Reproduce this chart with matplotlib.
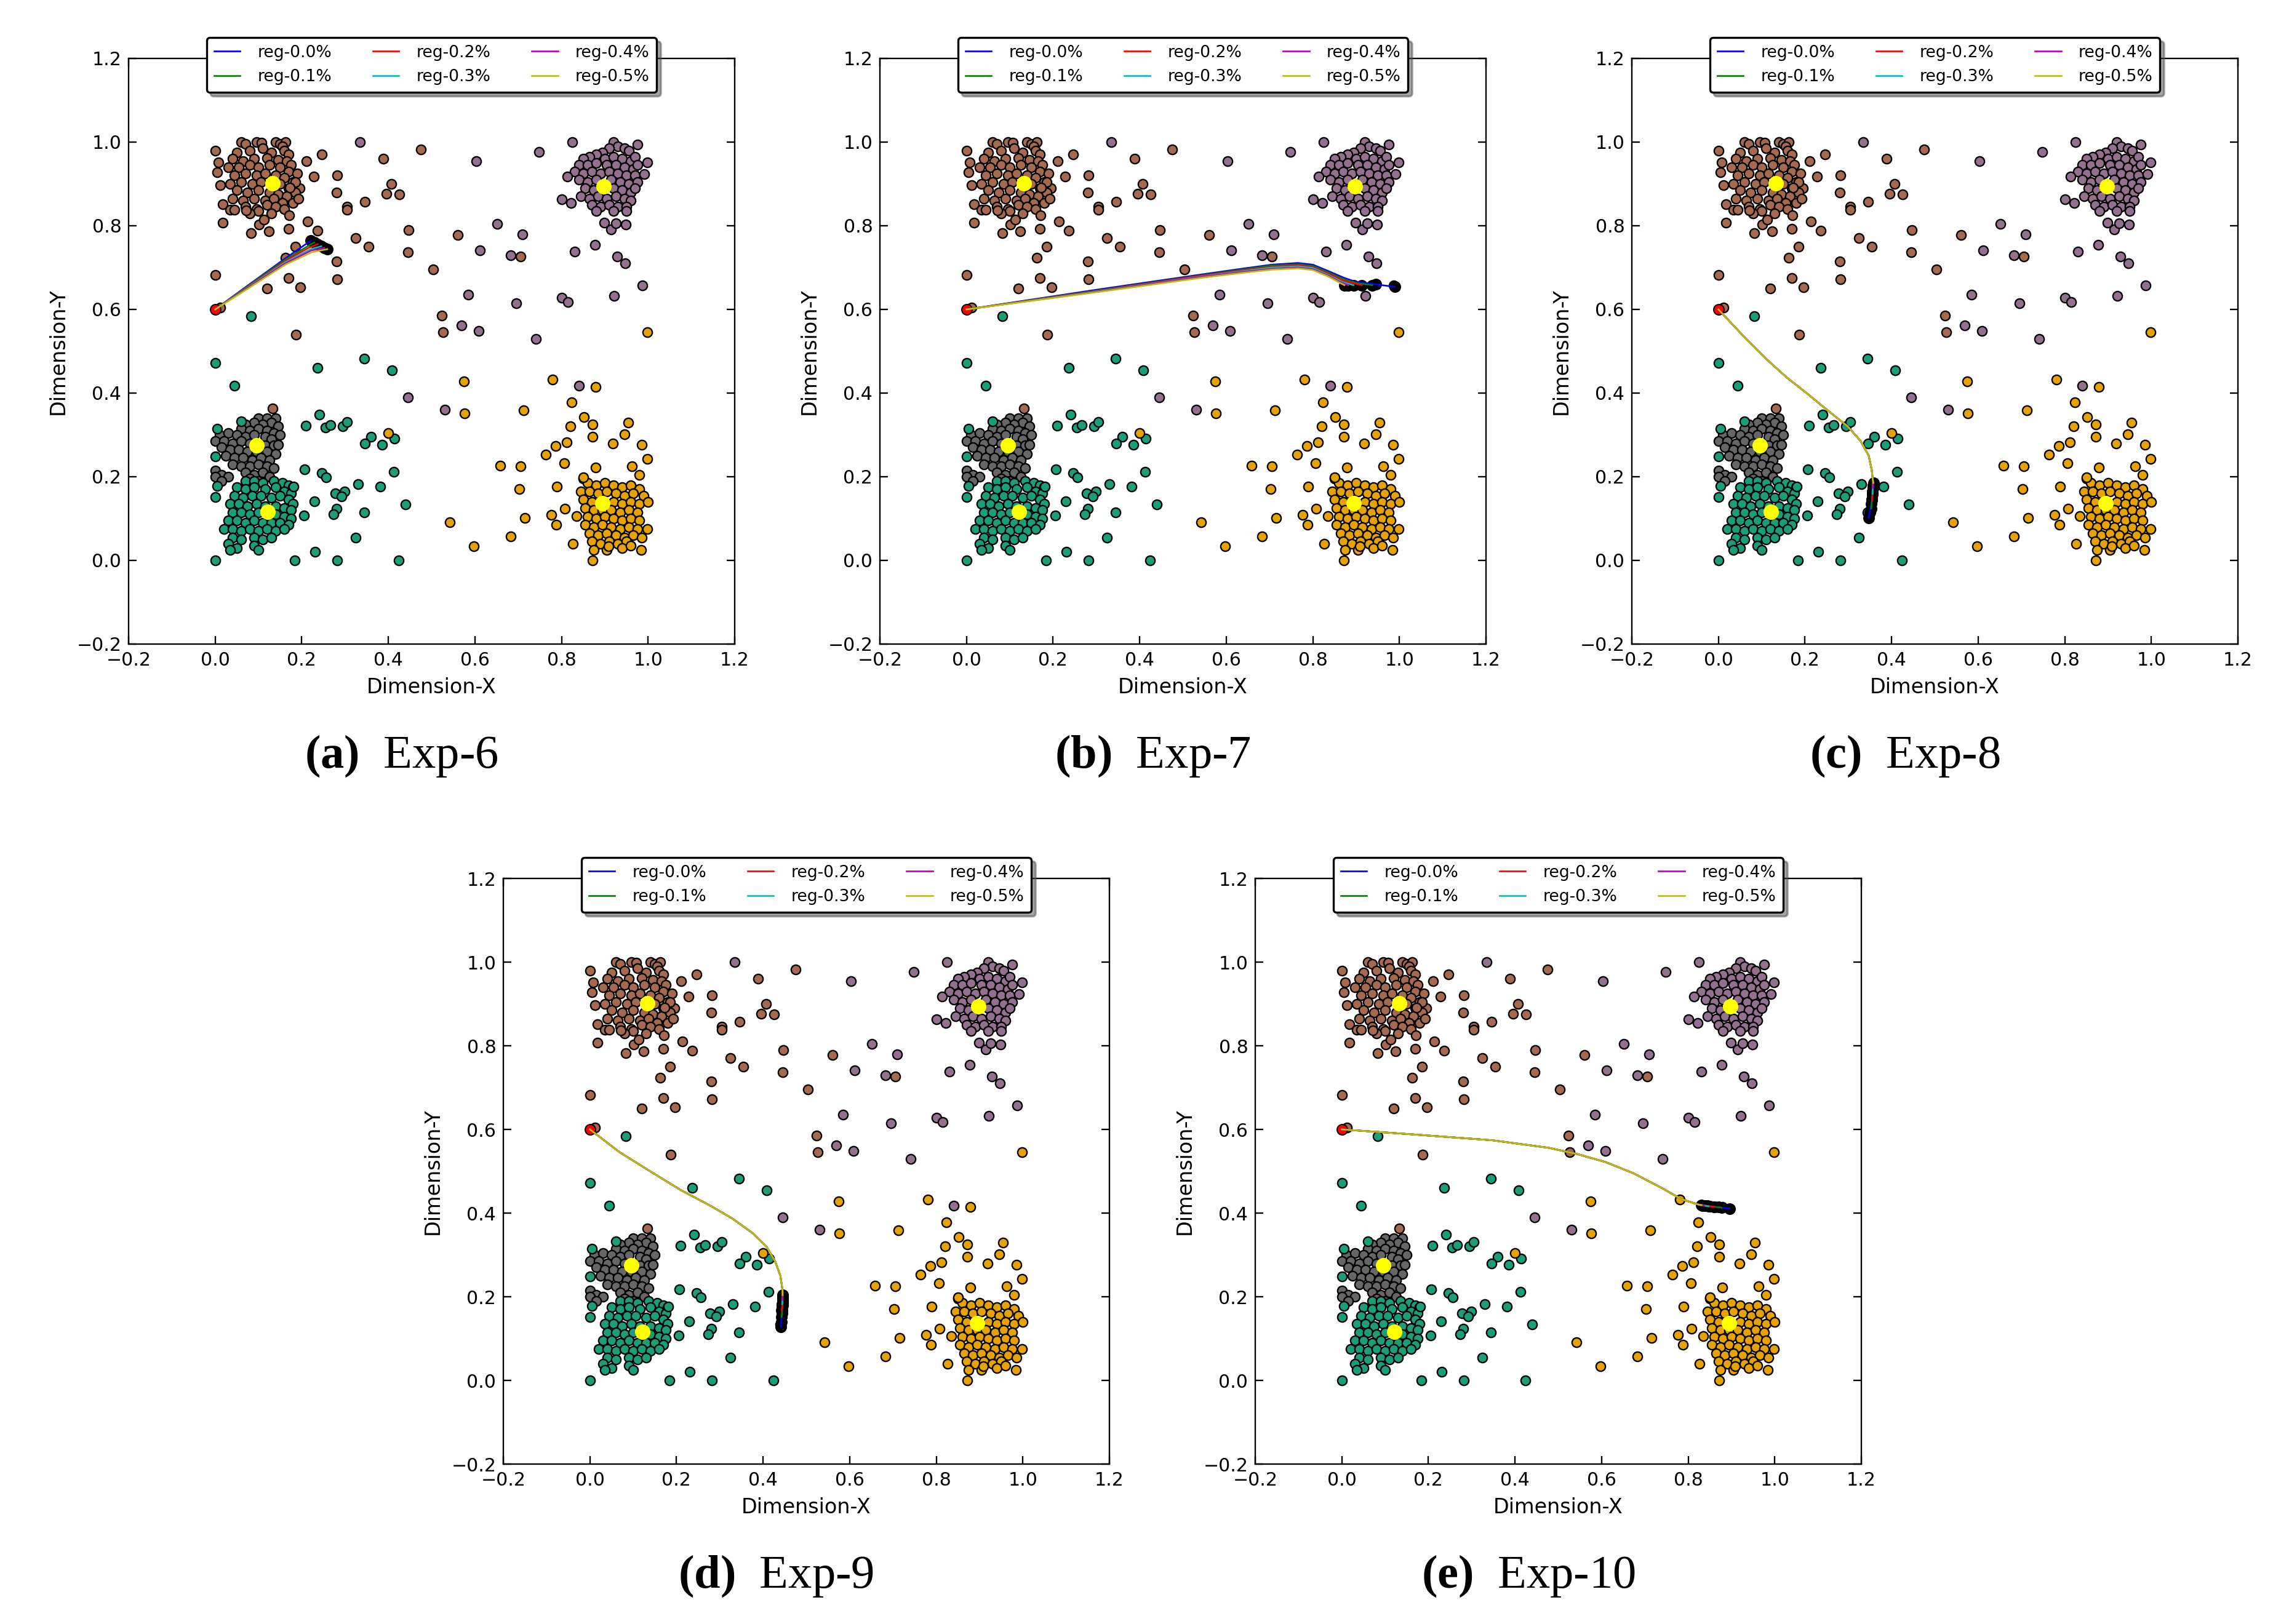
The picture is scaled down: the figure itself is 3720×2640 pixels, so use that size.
import matplotlib
matplotlib.use("Agg")
import matplotlib.pyplot as plt

plt.rcParams["font.family"] = ["DejaVu Sans"]
plt.rcParams["mathtext.fontset"] = "custom"
plt.rcParams["mathtext.rm"] = "Liberation Serif"
plt.rcParams["mathtext.bf"] = "Liberation Serif:bold"

# ---- data points (same data set in every panel) ----
brown_pts = [
    (0.06, 1.0), (0.07, 0.995), (0.095, 1.0), (0.107, 0.998), (0.14, 1.0), (0.15, 0.995), (0.162, 1.0), (0.155, 0.99),
    (0.05, 0.975), (0.08, 0.98), (0.11, 0.985), (0.13, 0.975), (0.16, 0.98), (0.17, 0.97),
    (0.04, 0.96), (0.065, 0.955), (0.09, 0.96), (0.12, 0.962), (0.145, 0.958), (0.165, 0.955), (0.175, 0.945),
    (0.03, 0.94), (0.055, 0.94), (0.08, 0.945), (0.1, 0.94), (0.125, 0.945), (0.15, 0.94), (0.17, 0.93), (0.19, 0.925),
    (0.045, 0.92), (0.07, 0.925), (0.095, 0.92), (0.115, 0.925), (0.14, 0.92), (0.16, 0.915), (0.18, 0.905),
    (0.035, 0.9), (0.06, 0.905), (0.085, 0.9), (0.105, 0.905), (0.15, 0.9), (0.17, 0.89), (0.195, 0.89),
    (0.05, 0.885), (0.075, 0.88), (0.1, 0.885), (0.125, 0.88), (0.145, 0.875), (0.165, 0.87), (0.185, 0.88),
    (0.04, 0.865), (0.065, 0.86), (0.09, 0.865), (0.115, 0.86), (0.135, 0.865), (0.155, 0.855), (0.18, 0.855),
    (0.07, 0.845), (0.095, 0.84), (0.12, 0.85), (0.14, 0.845), (0.16, 0.84), (0.1, 0.835), (0.13, 0.83), (0.08, 0.83),
    (0.0, 0.98), (0.008, 0.952), (0.005, 0.928), (0.012, 0.897), (0.017, 0.852), (0.034, 0.838), (0.045, 0.838),
    (0.072, 0.837), (0.017, 0.808), (0.083, 0.782), (0.102, 0.803), (0.112, 0.815), (0.124, 0.787), (0.171, 0.825),
    (0.169, 0.792), (0.192, 0.865), (0.185, 0.904), (0.173, 0.891), (0.211, 0.955), (0.228, 0.917), (0.246, 0.97),
    (0.282, 0.921), (0.28, 0.879), (0.304, 0.845), (0.304, 0.838), (0.346, 0.858), (0.388, 0.96), (0.407, 0.9),
    (0.395, 0.876), (0.426, 0.875), (0.475, 0.983), (0.213, 0.81), (0.236, 0.788), (0.185, 0.75), (0.162, 0.723),
    (0.28, 0.714), (0.325, 0.77), (0.355, 0.75), (0.447, 0.789), (0.445, 0.737), (0.504, 0.695), (0.0, 0.682),
    (0.169, 0.675), (0.12, 0.65), (0.196, 0.653), (0.282, 0.672), (0.012, 0.605), (0.186, 0.539), (0.524, 0.586),
    (0.527, 0.546), (0.561, 0.778), (0.705, 0.726), (0.132, 0.363),
]
purple_pts = [
    (0.92, 1.0), (0.93, 0.99), (0.945, 0.985), (0.955, 0.98), (0.91, 0.985), (0.895, 0.975), (0.88, 0.97),
    (0.865, 0.965), (0.85, 0.96), (0.9, 0.96), (0.92, 0.965), (0.94, 0.96), (0.96, 0.955), (0.97, 0.965),
    (0.84, 0.945), (0.86, 0.945), (0.88, 0.95), (0.905, 0.945), (0.925, 0.945), (0.945, 0.94), (0.965, 0.935), (0.975, 0.945),
    (0.83, 0.93), (0.85, 0.925), (0.87, 0.93), (0.89, 0.925), (0.91, 0.93), (0.93, 0.925), (0.95, 0.92), (0.97, 0.92),
    (0.84, 0.91), (0.86, 0.905), (0.88, 0.91), (0.915, 0.91), (0.935, 0.905), (0.955, 0.9), (0.975, 0.905),
    (0.855, 0.89), (0.875, 0.885), (0.92, 0.89), (0.94, 0.885), (0.96, 0.88), (0.97, 0.89),
    (0.845, 0.87), (0.865, 0.865), (0.885, 0.87), (0.905, 0.865), (0.925, 0.87), (0.945, 0.865), (0.96, 0.86),
    (0.87, 0.85), (0.89, 0.845), (0.91, 0.85), (0.93, 0.845), (0.95, 0.845), (0.88, 0.835), (0.92, 0.835), (0.95, 0.835),
    (0.335, 1.0), (0.825, 1.0), (0.748, 0.977), (0.603, 0.955), (0.976, 0.994), (0.998, 0.952), (0.991, 0.923),
    (0.8, 0.863), (0.822, 0.855), (0.814, 0.917), (0.652, 0.805), (0.709, 0.78), (0.612, 0.741), (0.683, 0.73),
    (0.83, 0.738), (0.877, 0.754), (0.929, 0.727), (0.947, 0.711), (0.898, 0.808), (0.915, 0.791), (0.926, 0.806),
    (0.948, 0.803), (0.987, 0.657), (0.922, 0.632), (0.8, 0.628), (0.815, 0.617), (0.695, 0.614), (0.585, 0.636),
    (0.569, 0.562), (0.609, 0.549), (0.741, 0.53), (0.445, 0.39), (0.53, 0.36), (0.84, 0.418),
]
gray_pts = [
    (0.1, 0.34), (0.12, 0.34), (0.14, 0.34), (0.13, 0.33), (0.11, 0.325), (0.145, 0.32), (0.09, 0.33), (0.07, 0.325),
    (0.06, 0.315), (0.08, 0.31), (0.1, 0.315), (0.12, 0.31), (0.135, 0.305), (0.15, 0.3),
    (0.01, 0.3), (0.03, 0.305), (0.05, 0.3), (0.07, 0.295), (0.09, 0.3), (0.115, 0.295), (0.13, 0.29),
    (0.0, 0.285), (0.02, 0.285), (0.04, 0.28), (0.06, 0.285), (0.08, 0.28), (0.115, 0.275), (0.135, 0.275),
    (0.015, 0.27), (0.035, 0.265), (0.055, 0.265), (0.075, 0.26), (0.095, 0.26), (0.12, 0.26), (0.14, 0.255),
    (0.025, 0.25), (0.045, 0.245), (0.065, 0.245), (0.085, 0.24), (0.105, 0.245), (0.125, 0.24),
    (0.04, 0.23), (0.06, 0.225), (0.08, 0.225), (0.1, 0.23), (0.12, 0.225), (0.135, 0.22),
    (0.0, 0.215), (0.015, 0.205), (0.03, 0.2), (0.07, 0.21), (0.09, 0.205), (0.11, 0.21), (0.125, 0.2),
    (0.1, 0.19), (0.08, 0.195), (0.0, 0.2), (0.015, 0.19), (0.145, 0.276),
]
green_pts = [
    (0.07, 0.19), (0.09, 0.19), (0.11, 0.185), (0.135, 0.19), (0.155, 0.185), (0.17, 0.18), (0.18, 0.175),
    (0.05, 0.175), (0.07, 0.17), (0.09, 0.175), (0.115, 0.17), (0.14, 0.175), (0.16, 0.165), (0.175, 0.16),
    (0.045, 0.155), (0.065, 0.15), (0.085, 0.155), (0.105, 0.155), (0.13, 0.15), (0.15, 0.155), (0.17, 0.145), (0.18, 0.135),
    (0.035, 0.135), (0.055, 0.135), (0.075, 0.13), (0.095, 0.135), (0.115, 0.13), (0.14, 0.13), (0.16, 0.125), (0.175, 0.12),
    (0.04, 0.115), (0.06, 0.115), (0.08, 0.11), (0.1, 0.115), (0.14, 0.11), (0.16, 0.105), (0.175, 0.1),
    (0.03, 0.095), (0.05, 0.095), (0.07, 0.09), (0.09, 0.095), (0.11, 0.09), (0.13, 0.09), (0.15, 0.09), (0.17, 0.085),
    (0.02, 0.075), (0.04, 0.075), (0.06, 0.07), (0.08, 0.075), (0.1, 0.07), (0.12, 0.075), (0.14, 0.07), (0.16, 0.075),
    (0.04, 0.055), (0.06, 0.05), (0.09, 0.055), (0.11, 0.05), (0.13, 0.055), (0.03, 0.04), (0.05, 0.03),
    (0.09, 0.035), (0.1, 0.025), (0.035, 0.025),
    (0.083, 0.584), (0.0, 0.472), (0.236, 0.46), (0.344, 0.482), (0.409, 0.455), (0.045, 0.417), (0.241, 0.348),
    (0.21, 0.322), (0.255, 0.318), (0.266, 0.323), (0.294, 0.32), (0.304, 0.331), (0.36, 0.295), (0.346, 0.28),
    (0.386, 0.276), (0.414, 0.291), (0.06, 0.332), (0.005, 0.315), (0.0, 0.248), (0.207, 0.218), (0.247, 0.209),
    (0.256, 0.198), (0.33, 0.183), (0.381, 0.176), (0.412, 0.212), (0.278, 0.16), (0.299, 0.165), (0.292, 0.153),
    (0.229, 0.141), (0.281, 0.124), (0.273, 0.111), (0.344, 0.115), (0.439, 0.134), (0.205, 0.107), (0.181, 0.176),
    (0.324, 0.054), (0.23, 0.02), (0.184, 0.0), (0.282, 0.0), (0.424, 0.0), (0.0, 0.0), (0.0, 0.152), (0.005, 0.178),
]
orange_pts = [
    (0.85, 0.195), (0.86, 0.185), (0.88, 0.18), (0.9, 0.185), (0.92, 0.18), (0.94, 0.175), (0.96, 0.18), (0.98, 0.17),
    (0.845, 0.165), (0.865, 0.165), (0.885, 0.16), (0.905, 0.165), (0.925, 0.16), (0.945, 0.155), (0.965, 0.16), (0.99, 0.155),
    (0.85, 0.145), (0.87, 0.14), (0.92, 0.14), (0.94, 0.135), (0.96, 0.14), (0.98, 0.135), (1.0, 0.14),
    (0.855, 0.125), (0.875, 0.12), (0.895, 0.12), (0.915, 0.12), (0.935, 0.115), (0.955, 0.12), (0.975, 0.115),
    (0.86, 0.105), (0.88, 0.1), (0.9, 0.105), (0.92, 0.1), (0.94, 0.095), (0.96, 0.1), (0.98, 0.095),
    (0.855, 0.085), (0.875, 0.08), (0.895, 0.085), (0.915, 0.08), (0.935, 0.075), (0.955, 0.08), (0.975, 0.075),
    (0.865, 0.065), (0.885, 0.06), (0.905, 0.065), (0.925, 0.06), (0.945, 0.055), (0.965, 0.06), (0.985, 0.055),
    (0.87, 0.045), (0.89, 0.04), (0.91, 0.045), (0.93, 0.04), (0.95, 0.045), (0.875, 0.025), (0.905, 0.025),
    (0.94, 0.03), (0.96, 0.035),
    (0.4, 0.304), (0.998, 0.546), (0.575, 0.428), (0.576, 0.351), (0.713, 0.359), (0.78, 0.432), (0.879, 0.415),
    (0.824, 0.378), (0.852, 0.342), (0.872, 0.325), (0.82, 0.321), (0.872, 0.295), (0.954, 0.33), (0.946, 0.302),
    (0.919, 0.28), (0.986, 0.276), (0.998, 0.243), (0.812, 0.282), (0.787, 0.274), (0.763, 0.253), (0.807, 0.233),
    (0.879, 0.222), (0.962, 0.225), (0.98, 0.205), (0.658, 0.227), (0.706, 0.225), (0.703, 0.17), (0.789, 0.177),
    (0.716, 0.101), (0.777, 0.109), (0.788, 0.085), (0.808, 0.124), (0.835, 0.106), (0.542, 0.091), (0.682, 0.058),
    (0.598, 0.034), (0.826, 0.039), (0.872, 0.0), (0.908, 0.034), (0.984, 0.025), (0.998, 0.075), (0.851, 0.198),
]
cluster_colors = ["#a5694f", "#94708f", "#666666", "#1b9e77", "#e6a102"]
centroids = [(0.133, 0.901), (0.897, 0.894), (0.096, 0.275), (0.121, 0.116), (0.895, 0.137)]
start_point = (0.0, 0.6)

reg_labels = ["reg-0.0%", "reg-0.1%", "reg-0.2%", "reg-0.3%", "reg-0.4%", "reg-0.5%"]
reg_colors = ["b", "g", "r", "c", "m", "y"]

# ---- trajectories, one list per regularisation level ----
exp6_paths = [
    [(0, 0.6), (0.067, 0.651), (0.162, 0.722), (0.212, 0.758), (0.221, 0.764)],
    [(0, 0.6), (0.067, 0.65), (0.162, 0.719), (0.215, 0.752), (0.229, 0.76)],
    [(0, 0.6), (0.067, 0.648), (0.162, 0.716), (0.217, 0.748), (0.237, 0.756)],
    [(0, 0.6), (0.067, 0.647), (0.162, 0.713), (0.22, 0.744), (0.245, 0.751)],
    [(0, 0.6), (0.067, 0.646), (0.162, 0.71), (0.222, 0.741), (0.252, 0.747)],
    [(0, 0.6), (0.067, 0.644), (0.162, 0.707), (0.224, 0.737), (0.259, 0.744)],
]
exp7_paths = [
    [(0, 0.6), (0.3, 0.647), (0.539, 0.683), (0.634, 0.697), (0.705, 0.707), (0.766, 0.711), (0.8, 0.707),
     (0.833, 0.693), (0.871, 0.676), (0.899, 0.666), (0.945, 0.66), (0.989, 0.654)],
    [(0, 0.6), (0.3, 0.645), (0.539, 0.681), (0.634, 0.695), (0.705, 0.705), (0.766, 0.708), (0.8, 0.704),
     (0.833, 0.69), (0.871, 0.672), (0.905, 0.662), (0.937, 0.658)],
    [(0, 0.6), (0.3, 0.644), (0.539, 0.68), (0.634, 0.693), (0.705, 0.702), (0.766, 0.706), (0.8, 0.701),
     (0.833, 0.687), (0.87, 0.669), (0.913, 0.658)],
    [(0, 0.6), (0.3, 0.643), (0.539, 0.678), (0.634, 0.691), (0.705, 0.7), (0.766, 0.703), (0.8, 0.699),
     (0.833, 0.684), (0.865, 0.667), (0.894, 0.658)],
    [(0, 0.6), (0.3, 0.642), (0.539, 0.677), (0.634, 0.689), (0.705, 0.697), (0.766, 0.7), (0.8, 0.696),
     (0.833, 0.682), (0.862, 0.666), (0.882, 0.658)],
    [(0, 0.6), (0.3, 0.641), (0.539, 0.675), (0.634, 0.687), (0.705, 0.695), (0.766, 0.698), (0.8, 0.694),
     (0.833, 0.68), (0.86, 0.665), (0.873, 0.658)],
]
exp8_shared = [(0, 0.6), (0.0625, 0.531), (0.11, 0.482), (0.157, 0.438), (0.205, 0.399), (0.252, 0.359),
               (0.299, 0.32), (0.328, 0.286), (0.347, 0.251), (0.354, 0.217), (0.357, 0.19)]
exp8_tails = [
    [(0.356, 0.16), (0.353, 0.135), (0.35, 0.115), (0.347, 0.102)],
    [(0.356, 0.165), (0.355, 0.145), (0.353, 0.124)],
    [(0.357, 0.172), (0.356, 0.158), (0.355, 0.144)],
    [(0.357, 0.175), (0.356, 0.165), (0.356, 0.159)],
    [(0.357, 0.18), (0.357, 0.173)],
    [(0.358, 0.185)],
]
exp9_shared = [(0, 0.6), (0.068, 0.546), (0.139, 0.5), (0.21, 0.455), (0.281, 0.416), (0.329, 0.387),
               (0.376, 0.352), (0.409, 0.318), (0.428, 0.284), (0.44, 0.25), (0.445, 0.215)]
exp9_tails = [
    [(0.445, 0.18), (0.444, 0.16), (0.442, 0.14), (0.441, 0.128)],
    [(0.445, 0.185), (0.444, 0.168), (0.443, 0.152)],
    [(0.445, 0.19), (0.444, 0.178), (0.443, 0.168)],
    [(0.445, 0.195), (0.444, 0.182)],
    [(0.445, 0.2), (0.445, 0.192)],
    [(0.445, 0.204)],
]
exp10_shared = [(0, 0.6), (0.152, 0.589), (0.348, 0.574), (0.478, 0.556), (0.544, 0.541), (0.609, 0.522),
                (0.674, 0.495), (0.739, 0.46), (0.785, 0.433), (0.825, 0.42)]
exp10_tails = [
    [(0.845, 0.417), (0.87, 0.414), (0.896, 0.411)],
    [(0.84, 0.418), (0.86, 0.415), (0.877, 0.413)],
    [(0.838, 0.418), (0.85, 0.416), (0.86, 0.415)],
    [(0.835, 0.418), (0.847, 0.416)],
    [(0.834, 0.418), (0.837, 0.418)],
    [(0.831, 0.419)],
]

letters = ["a", "b", "c", "d", "e"]
exp_names = ["Exp-6", "Exp-7", "Exp-8", "Exp-9", "Exp-10"]

# axes boxes in pixels of the 3720x2640 canvas: left, top
W, H = 3720, 2640
AX_W, AX_H = 985, 952
panel_boxes = [(209, 95), (1430, 95), (2652, 95), (818, 1428), (2040, 1428)]
caption_y = [1229, 1229, 1229, 2562, 2562]


def draw_panel(ax, lines, black_counts):
    point_sets = [brown_pts, purple_pts, gray_pts, green_pts, orange_pts]
    for pts, col in zip(point_sets, cluster_colors):
        ax.scatter([p[0] for p in pts], [p[1] for p in pts], s=21, c=col,
                   edgecolors="black", linewidths=0.7, zorder=2)
    ax.scatter([c[0] for c in centroids], [c[1] for c in centroids], s=52,
               c="yellow", edgecolors="yellow", linewidths=0.3, zorder=3)
    ax.scatter([start_point[0]], [start_point[1]], s=26, c="red",
               edgecolors="black", linewidths=0.6, zorder=3)

    # black stops at the end of every run
    for path, n in zip(lines, black_counts):
        tail = path[-n:]
        ax.scatter([p[0] for p in tail], [p[1] for p in tail], s=26, c="black",
                   edgecolors="black", linewidths=0.6, zorder=4)
    for path, col, lab in zip(lines, reg_colors, reg_labels):
        ax.plot([p[0] for p in path], [p[1] for p in path], color=col, lw=0.8,
                label=lab, zorder=5)

    ax.set_xlim(-0.2, 1.2)
    ax.set_ylim(-0.2, 1.2)
    ticks = [-0.2, 0.0, 0.2, 0.4, 0.6, 0.8, 1.0, 1.2]
    ax.set_xticks(ticks)
    ax.set_yticks(ticks)
    ax.tick_params(direction="in", top=True, right=True, length=4, width=0.7, labelsize=9)
    for sp in ax.spines.values():
        sp.set_linewidth(0.7)
    ax.set_xlabel("Dimension-X", fontsize=10)
    ax.set_ylabel("Dimension-Y", fontsize=10)
    ax.legend(loc="upper center", bbox_to_anchor=(0.5, 1.036), borderaxespad=0, ncol=3,
              fontsize=8, shadow=True, fancybox=True, framealpha=1, edgecolor="black",
              handlelength=1.6, handletextpad=1.05, columnspacing=2.5,
              borderpad=0.45, labelspacing=0.5)


all_lines = [
    exp6_paths,
    exp7_paths,
    [exp8_shared + t for t in exp8_tails],
    [exp9_shared + t for t in exp9_tails],
    [exp10_shared + t for t in exp10_tails],
]
all_counts = [
    [1, 1, 1, 1, 1, 1],
    [2, 1, 1, 1, 1, 1],
    [len(t) for t in exp8_tails],
    [len(t) for t in exp9_tails],
    [len(t) for t in exp10_tails],
]

fig = plt.figure(figsize=(15.5, 11), dpi=240)
for i in range(5):
    left, top = panel_boxes[i]
    ax = fig.add_axes([left / W, (H - top - AX_H) / H, AX_W / W, AX_H / H])
    draw_panel(ax, all_lines[i], all_counts[i])
    cx = (left + AX_W / 2 - 49) / W
    fig.text(cx, (H - caption_y[i]) / H,
             r"$\mathbf{(%s)}$  %s" % (letters[i], exp_names[i]),
             family="Liberation Serif", fontsize=23, ha="center", va="center")

fig.savefig("out.png", dpi=240, facecolor="white")
